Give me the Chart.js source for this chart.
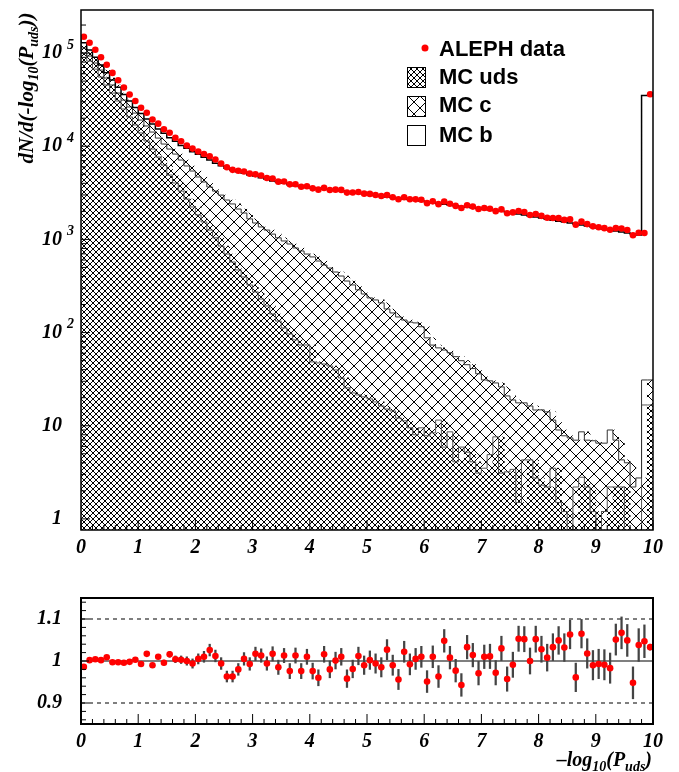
<!DOCTYPE html>
<html>
<head>
<meta charset="utf-8">
<script src="https://cdn.jsdelivr.net/npm/chart.js@4.4.0/dist/chart.umd.min.js"></script>
<style>
  body { margin: 0; background: #fff; overflow: hidden; }
  canvas { position: absolute; left: 0; }
  #top { top: 0; }
  #bot { top: 560px; }
</style>
</head>
<body>
<canvas id="top" width="679" height="560"></canvas>
<canvas id="bot" width="679" height="212"></canvas>
<script>
// ---- data (100 bins of -log10(P_uds), width 0.1) ----
const binWidth = 0.1;

const mcUds = [122000,100000,82000,67300,55300,45400,37200,30600,25100,20600,
  16900,13900,11400,9330,7660,6290,4910,4030,3300,2710,
  2230,1830,1540,1260,1040,849,697,572,470,395,
  324,273,229,193,158,133,112,96.6,83.4,73.6,
  73.6,48.4,47.2,46.0,43.8,39.7,32.6,25.5,22.5,21.4,
  20.4,19.4,18.0,16.3,15.1,14.4,12.1,11.3,9.5,8.0,
  9.5,7.8,8.4,11.5,5.9,8.6,4.1,5.9,5.2,4.1,
  3.1,3.5,4.9,7.6,3.1,3.2,3.4,1.5,4.3,4.3,
  2.75,2.3,2.2,3.5,1.5,1.2,0,2.2,2.8,2.2,
  1.2,0,1.2,2.2,2.2,2.2,0,0,0,16.7];

const mcC = [12500,13200,10900,10900,10400,8600,8200,6600,6200,5800,
  5800,5200,5100,4870,4580,4270,4420,4210,3810,3430,
  3190,2850,2590,2390,2260,2140,1950,1830,1650,1525,
  1336,1227,1131,1067,982,907,850,796,726,678,
  623,600,539,485,449,407,372,332,302,266,
  239,216,206,192,164,148,135,125,120,119,
  106,80,65,57,59,52,51,44,40,37,
  33,27.5,25.4,21.2,23.0,17.7,15.5,16.1,13.3,12.0,
  12.0,12.5,11.9,8.0,7.5,6.6,7.4,4.8,5.8,4.8,
  5.7,6.5,5.3,6.8,4.8,2.1,4.0,2.2,2.75,14.3];

const mcB = [17500,15800,15100,11800,8600,7500,5900,5700,4700,4100,
  3400,3400,3100,3100,3060,3190,2970,3060,3090,3350,
  3310,3510,3470,3460,3260,3190,3140,3160,3210,3200,
  3250,3290,3230,3160,3090,3090,3040,2970,2960,2930,
  2920,2910,2920,2930,2930,2920,2915,2890,2870,2840,
  2810,2785,2736,2702,2681,2658,2623,2584,2550,2503,
  2465,2442,2406,2362,2325,2280,2245,2210,2175,2139,
  2114,2079,2040,2011,1974,1949,1901,1852,1812,1764,
  1725,1685,1636,1598,1561,1532,1493,1453,1421,1383,
  1353,1323,1283,1251,1223,1196,1166,1138,1112,34970];

const aleph = [149900,129300,108400,90200,75000,61300,51150,42730,35930,30590,
  25920,22880,19400,17470,15240,13970,12350,11330,10200,9430,
  8770,8270,7800,7200,6520,5950,5580,5450,5360,5080,
  4990,4850,4560,4500,4170,4180,3900,3910,3680,3720,
  3530,3420,3570,3390,3420,3400,3180,3190,3230,3100,
  3080,3000,2920,2990,2830,2700,2830,2700,2690,2660,
  2450,2560,2390,2550,2410,2290,2170,2330,2250,2120,
  2170,2130,2010,2100,1910,1950,2020,1970,1830,1870,
  1790,1710,1700,1690,1620,1640,1440,1550,1460,1380,
  1350,1320,1270,1320,1310,1260,1110,1180,1170,36200];

const ratio = [0.986,1.002,1.004,1.002,1.009,0.997,0.997,0.996,0.998,1.003,
  0.993,1.017,0.990,1.010,0.996,1.016,1.004,1.003,1.000,0.994,
  1.005,1.010,1.026,1.012,0.994,0.963,0.963,0.980,1.005,0.993,
  1.017,1.013,0.994,1.017,0.985,1.013,0.976,1.013,0.976,1.010,
  0.976,0.960,1.016,0.980,1.001,1.010,0.958,0.981,1.012,0.990,
  1.002,0.994,0.985,1.027,0.990,0.956,1.022,0.992,1.005,1.010,
  0.951,1.010,0.963,1.048,1.008,0.977,0.943,1.033,1.014,0.971,
  1.010,1.011,0.972,1.030,0.957,0.991,1.053,1.052,1.000,1.052,
  1.028,1.008,1.033,1.049,1.032,1.063,0.961,1.065,1.018,0.990,
  0.993,0.991,0.983,1.051,1.067,1.049,0.948,1.038,1.047,1.033];

const ratioErr = [0.002,0.002,0.002,0.002,0.002,0.003,0.003,0.003,0.003,0.003,
  0.004,0.004,0.005,0.005,0.006,0.007,0.008,0.009,0.010,0.011,
  0.012,0.013,0.014,0.014,0.014,0.013,0.013,0.014,0.015,0.015,
  0.016,0.016,0.016,0.017,0.017,0.017,0.018,0.018,0.018,0.018,
  0.019,0.019,0.019,0.020,0.020,0.020,0.021,0.021,0.021,0.022,
  0.022,0.023,0.023,0.024,0.024,0.024,0.025,0.025,0.025,0.025,
  0.026,0.026,0.026,0.027,0.027,0.027,0.027,0.028,0.028,0.028,
  0.028,0.029,0.029,0.029,0.029,0.030,0.030,0.030,0.031,0.031,
  0.031,0.032,0.032,0.033,0.033,0.034,0.034,0.034,0.035,0.035,
  0.035,0.036,0.036,0.037,0.038,0.038,0.038,0.039,0.039,0.007];

const xTicks = [0, 1, 2, 3, 4, 5, 6, 7, 8, 9, 10];
const yDecades = [1, 10, 100, 1000, 10000, 100000];
const ratioTicks = [0.9, 1, 1.1];
const ratioLines = [0.9, 1, 1.1];

// ---- derived ----
const binCenters = mcUds.map((_, i) => (i + 0.5) * binWidth);
const cumUds = mcUds.slice();
const cumUdsC = mcUds.map((v, i) => v + mcC[i]);
const cumAll = cumUdsC.map((v, i) => v + mcB[i]);

function barPoints(vals) {
  return vals.map((v, i) => ({ x: binCenters[i], y: v }));
}
function stepPoints(vals) {
  const pts = vals.map((v, i) => ({ x: i * binWidth, y: v > 0 ? v : 1e-3 }));
  pts.push({ x: vals.length * binWidth, y: pts[pts.length - 1].y });
  return pts;
}

const F = 'italic bold 20px "Liberation Serif"';
const FT = 'italic bold 21px "Liberation Serif"';
const FS = 'italic bold 14px "Liberation Serif"';
const tickFont = { family: 'Liberation Serif', size: 20, style: 'italic', weight: 'bold' };

function drawRich(ctx, parts, x, y, align) {
  let w = 0;
  for (const p of parts) { ctx.font = p.f; w += ctx.measureText(p.t).width; }
  let cx = align === 'right' ? x - w : align === 'center' ? x - w / 2 : x;
  ctx.textAlign = 'left';
  ctx.textBaseline = 'alphabetic';
  for (const p of parts) {
    ctx.font = p.f;
    ctx.fillText(p.t, cx, y + (p.dy || 0));
    cx += ctx.measureText(p.t).width;
  }
}
const xTitle = [
  { t: '\u2013log', f: F }, { t: '10', f: FS, dy: 5 }, { t: '(P', f: F },
  { t: 'uds', f: FS, dy: 5 }, { t: ')', f: F }
];

function hatch(ctx, size) {
  const c = document.createElement('canvas');
  c.width = c.height = size;
  const g = c.getContext('2d');
  g.fillStyle = '#fff';
  g.fillRect(0, 0, size, size);
  g.strokeStyle = '#000';
  g.lineWidth = 1;
  g.beginPath();
  for (const k of [-size, 0, size]) {
    g.moveTo(k, 0); g.lineTo(k + size, size);
    g.moveTo(k, size); g.lineTo(k + size, 0);
  }
  g.stroke();
  return ctx.createPattern(c, 'repeat');
}

Chart.defaults.color = '#000';
Chart.defaults.font.family = 'Liberation Serif';

/*---------------------------- top panel ----------------------------*/
const topCtx = document.getElementById('top').getContext('2d');
const denseHatch = hatch(topCtx, 6);
const sparseHatch = hatch(topCtx, 12);

const topDecor = {
  id: 'topDecor',
  afterDraw(chart) {
    const { ctx, chartArea: a, scales: { x, y } } = chart;
    ctx.save();
    ctx.strokeStyle = '#000';
    ctx.lineWidth = 1;
    ctx.beginPath();
    for (let t = 0; t <= 50; t++) {
      const px = x.getPixelForValue(t / 5);
      ctx.moveTo(px, a.bottom);
      ctx.lineTo(px, a.bottom - (t % 5 === 0 ? 10 : 5));
    }
    for (const d of yDecades) {
      for (let m = 1; m <= 9; m++) {
        const v = d * m;
        if (v > y.max) break;
        const py = y.getPixelForValue(v);
        ctx.moveTo(a.left, py);
        ctx.lineTo(a.left + (m === 1 ? 9 : 5), py);
      }
    }
    ctx.stroke();
    ctx.lineWidth = 1.5;
    ctx.strokeRect(a.left, a.top, a.right - a.left, a.bottom - a.top);

    // y labels 1, 10, 10^2 ...
    ctx.fillStyle = '#000';
    for (const v of yDecades) {
      const py = y.getPixelForValue(v);
      const e = Math.round(Math.log10(v));
      ctx.font = F;
      ctx.textAlign = 'right';
      ctx.textBaseline = 'middle';
      ctx.fillText(e === 0 ? '1' : '10', 62, py);
      if (e > 1) {
        ctx.font = FS;
        ctx.textAlign = 'left';
        ctx.fillText(String(e), 67, py - 8);
      }
    }

    // y title
    ctx.save();
    ctx.translate(33, 88);
    ctx.rotate(-Math.PI / 2);
    drawRich(ctx, [
      { t: 'dN/d(-log', f: FT }, { t: '10', f: FS, dy: 5 }, { t: '(P', f: FT },
      { t: 'uds', f: FS, dy: 5 }, { t: '))', f: FT }
    ], 0, 0, 'center');
    ctx.restore();

    // x title
    drawRich(ctx, xTitle, 652, 577, 'right');

    // legend
    const ds = chart.data.datasets;
    ctx.font = 'bold 22px "Liberation Sans"';
    ctx.textAlign = 'left';
    ctx.textBaseline = 'middle';
    ctx.fillStyle = '#000';
    ctx.fillText(ds[0].label, 439, 50);
    ctx.fillStyle = '#ff0000';
    ctx.beginPath();
    ctx.arc(425, 48, 3.5, 0, Math.PI * 2);
    ctx.fill();
    const boxes = [[ds[3], denseHatch, 67, 78], [ds[4], sparseHatch, 96, 106], [ds[5], '#fff', 125, 136]];
    for (const [d, fill, by, ty] of boxes) {
      ctx.fillStyle = fill;
      ctx.fillRect(407, by, 18, 20);
      ctx.strokeStyle = '#000';
      ctx.lineWidth = 1;
      ctx.strokeRect(407.5, by + 0.5, 18, 20);
      ctx.fillStyle = '#000';
      ctx.fillText(d.label, 439, ty);
    }
    ctx.restore();
  }
};

new Chart(topCtx, {
  type: 'bar',
  data: {
    datasets: [
      {
        type: 'line', label: 'ALEPH data', data: barPoints(aleph), showLine: false,
        pointRadius: 3.3, pointBackgroundColor: '#ff0000', pointBorderWidth: 0, order: 0
      },
      {
        type: 'line', label: 'total', data: stepPoints(cumAll), stepped: 'after',
        borderColor: '#000', borderWidth: 1.5, pointRadius: 0, order: 1
      },
      {
        type: 'line', label: 'uds+c', data: stepPoints(cumUdsC), stepped: 'after',
        borderColor: '#333', borderWidth: 1, pointRadius: 0, order: 1
      },
      {
        label: 'MC uds', data: barPoints(cumUds), backgroundColor: denseHatch,
        borderWidth: 0, grouped: false, barPercentage: 1, categoryPercentage: 1, order: 3
      },
      {
        label: 'MC c', data: barPoints(cumUdsC), backgroundColor: sparseHatch,
        borderWidth: 0, grouped: false, barPercentage: 1, categoryPercentage: 1, order: 4
      },
      {
        label: 'MC b', data: barPoints(cumAll), backgroundColor: '#fff',
        borderWidth: 0, grouped: false, barPercentage: 1, categoryPercentage: 1, order: 5
      },
      {
        type: 'line', label: 'uds', data: stepPoints(cumUds), stepped: 'after',
        borderColor: '#555', borderWidth: 1, pointRadius: 0, order: 2
      }
    ]
  },
  options: {
    responsive: false,
    animation: false,
    devicePixelRatio: 1,
    layout: { padding: { top: 10, right: 26, left: 0, bottom: 0 } },
    plugins: { legend: { display: false }, tooltip: { enabled: false } },
    scales: {
      x: {
        type: 'linear', min: 0, max: 10, offset: false,
        afterBuildTicks: s => { s.ticks = xTicks.map(v => ({ value: v })); },
        afterFit: s => { s.height = 30; },
        grid: { display: false, drawTicks: false },
        border: { display: false },
        ticks: { font: tickFont, color: '#000', padding: 6, maxRotation: 0, autoSkip: false }
      },
      y: {
        type: 'logarithmic', min: 0.76, max: 2.9e5, beginAtZero: false,
        afterFit: s => { s.width = 81; },
        grid: { display: false, drawTicks: false },
        border: { display: false },
        ticks: { display: false }
      }
    }
  },
  plugins: [topDecor]
});

/*---------------------------- ratio panel ----------------------------*/
const botCtx = document.getElementById('bot').getContext('2d');

const botDecor = {
  id: 'botDecor',
  afterDraw(chart) {
    const { ctx, chartArea: a, scales: { x, y } } = chart;
    ctx.save();
    ctx.strokeStyle = '#000';
    ctx.lineWidth = 1;
    ctx.beginPath();
    for (let t = 0; t <= 50; t++) {
      const px = x.getPixelForValue(t / 5);
      ctx.moveTo(px, a.bottom);
      ctx.lineTo(px, a.bottom - (t % 5 === 0 ? 10 : 5));
    }
    for (let t = 43; t <= 57; t++) {
      const py = y.getPixelForValue(t / 50);
      ctx.moveTo(a.left, py);
      ctx.lineTo(a.left + (t % 5 === 0 ? 8 : 5), py);
    }
    ctx.stroke();
    ctx.lineWidth = 2;
    ctx.strokeRect(a.left, a.top, a.right - a.left, a.bottom - a.top);

    ctx.fillStyle = '#000';
    ctx.save();
    ctx.translate(32, 640);
    ctx.rotate(-Math.PI / 2);
    drawRich(ctx, [{ t: 'Data/MC', f: F }], 0, 0, 'center');
    ctx.restore();

    drawRich(ctx, xTitle, 652, 766 - 560, 'right');
    ctx.restore();
  }
};

const lineDs = ratioLines.map(v => ({
  type: 'line', label: 'ref ' + v,
  data: [{ x: 0, y: v }, { x: 10, y: v }],
  borderColor: '#000', borderWidth: v === 1 ? 1.2 : 1,
  borderDash: v === 1 ? [] : [4, 4], pointRadius: 0, order: 3
}));

new Chart(botCtx, {
  type: 'bar',
  data: {
    datasets: [
      {
        type: 'line', label: 'Data/MC', data: barPoints(ratio), showLine: false,
        pointRadius: 3.3, pointBackgroundColor: '#ff0000', pointBorderWidth: 0, order: 0
      },
      {
        label: 'error',
        data: ratio.map((r, i) => ({ x: binCenters[i], y: [r - ratioErr[i], r + ratioErr[i]] })),
        backgroundColor: '#444', barThickness: 1.6, grouped: false, order: 1
      },
      ...lineDs
    ]
  },
  options: {
    responsive: false,
    animation: false,
    devicePixelRatio: 1,
    layout: { padding: { top: 38, right: 26, left: 0, bottom: 0 } },
    plugins: { legend: { display: false }, tooltip: { enabled: false } },
    scales: {
      x: {
        type: 'linear', min: 0, max: 10, offset: false,
        afterBuildTicks: s => { s.ticks = xTicks.map(v => ({ value: v })); },
        afterFit: s => { s.height = 48; },
        grid: { display: false, drawTicks: false },
        border: { display: false },
        ticks: { font: tickFont, color: '#000', padding: 6, maxRotation: 0, autoSkip: false }
      },
      y: {
        type: 'linear', min: 0.85, max: 1.15, beginAtZero: false,
        afterBuildTicks: s => { s.ticks = ratioTicks.map(v => ({ value: v })); },
        afterFit: s => { s.width = 81; },
        grid: { display: false, drawTicks: false },
        border: { display: false },
        ticks: { font: tickFont, color: '#000', padding: 19, callback: v => String(v) }
      }
    }
  },
  plugins: [botDecor]
});
</script>
</body>
</html>
